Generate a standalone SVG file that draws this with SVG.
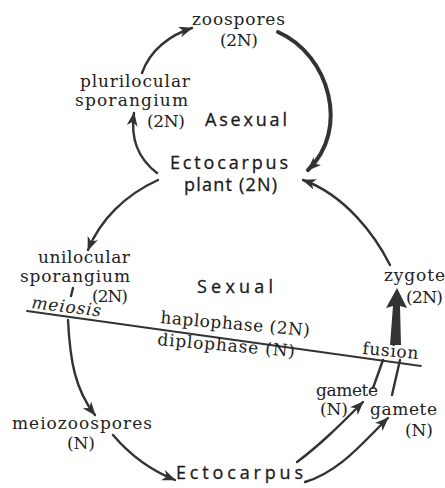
<svg xmlns="http://www.w3.org/2000/svg" width="445" height="488" viewBox="0 0 445 488">
<style>
.s{font-family:"DejaVu Serif","Liberation Serif",serif;font-size:17px;fill:#222}
.a{font-family:"Open Sans","DejaVu Sans",sans-serif;font-size:18px;font-weight:500;fill:#1a1a1a;stroke:#1a1a1a;stroke-width:0.3}
.c{fill:none;stroke:#333;stroke-width:2.4;stroke-linecap:round}
.t{stroke-width:4}
</style>
<defs>
<marker id="ah" markerUnits="userSpaceOnUse" markerWidth="16" markerHeight="12" refX="13" refY="5.5" orient="auto">
<path d="M0,0 L14,5.5 L0,11 L4,5.5 z" fill="#333"/>
</marker>
</defs>
<rect width="445" height="488" fill="#fff"/>
<g id="connectors">
<path class="c" d="M142,73 C150,50 170,35 192,28" marker-end="url(#ah)"/>
<path class="c t" d="M278,32 C330,55 350,130 308,170" marker-end="url(#ah)"/>
<path class="c" d="M157,173 C140,160 130,140 134,113" marker-end="url(#ah)"/>
<path class="c" d="M158,180 C125,195 100,220 88,250" marker-end="url(#ah)"/>
<path class="c" d="M390,265 C375,235 345,195 303,180" marker-end="url(#ah)"/>
<path class="c" d="M73,288 L71,296"/>
<path class="c" d="M68,320 C70,360 75,390 95,415" marker-end="url(#ah)"/>
<path class="c" d="M113,435 C130,455 150,470 175,480" marker-end="url(#ah)"/>
<path class="c" d="M297,462 C320,445 340,425 363,402" marker-end="url(#ah)"/>
<path class="c" d="M305,482 C340,472 365,440 388,418" marker-end="url(#ah)"/>
<path class="c" d="M383,360 L373,388"/>
<path class="c" d="M400,360 L392,395"/>
<polygon points="390,345 393,306 386,308 397,288 407,308 400,306 401,345" fill="#333"/>
<path class="c" d="M27,311 L421,366" style="stroke-width:1.8"/>
</g>
<g id="zoospores"><text class="s" x="192" y="25" textLength="93">zoospores</text><text class="s" x="220" y="46" textLength="38">(2N)</text></g>
<g id="plurilocular"><text class="s" x="80" y="87" textLength="110">plurilocular</text><text class="s" x="75" y="106" textLength="113">sporangium</text><text class="s" x="147" y="127" textLength="38">(2N)</text></g>
<g id="asexual"><text class="a" x="205" y="126" textLength="82">Asexual</text></g>
<g id="plant"><text class="a" x="170" y="169" textLength="118">Ectocarpus</text><text class="a" x="184" y="191" textLength="93">plant (2N)</text></g>
<g id="unilocular"><text class="s" x="38" y="263" textLength="92">unilocular</text><text class="s" x="20" y="282" textLength="110">sporangium</text><text class="s" x="92" y="302" textLength="36">(2N)</text></g>
<g id="meiosis"><text class="s" x="31" y="308" textLength="70" font-style="italic" transform="rotate(7 31 308)">meiosis</text></g>
<g id="sexual"><text class="a" x="197" y="293" textLength="76">Sexual</text></g>
<g id="phases"><text class="s" x="160" y="323" textLength="150" font-size="18" transform="rotate(5 160 323)">haplophase (2N)</text><text class="s" x="157" y="345" textLength="138" font-size="18" transform="rotate(5 157 345)">diplophase (N)</text></g>
<g id="zygote"><text class="s" x="384" y="281" textLength="61">zygote</text><text class="s" x="406" y="303" textLength="37">(2N)</text></g>
<g id="fusion"><text class="s" x="362" y="354" textLength="56" transform="rotate(5 362 354)">fusion</text></g>
<g id="gamete1"><text class="s" x="316" y="396" textLength="62" font-size="16">gamete</text><text class="s" x="320" y="415" textLength="28" font-size="16">(N)</text></g>
<g id="gamete2"><text class="s" x="370" y="415" textLength="67">gamete</text><text class="s" x="405" y="436" textLength="28">(N)</text></g>
<g id="meiozoospores"><text class="s" x="12" y="429" textLength="140">meiozoospores</text><text class="s" x="67" y="449" textLength="28">(N)</text></g>
<g id="ectocarpus"><text class="a" x="176" y="479" textLength="127">Ectocarpus</text></g>
</svg>
